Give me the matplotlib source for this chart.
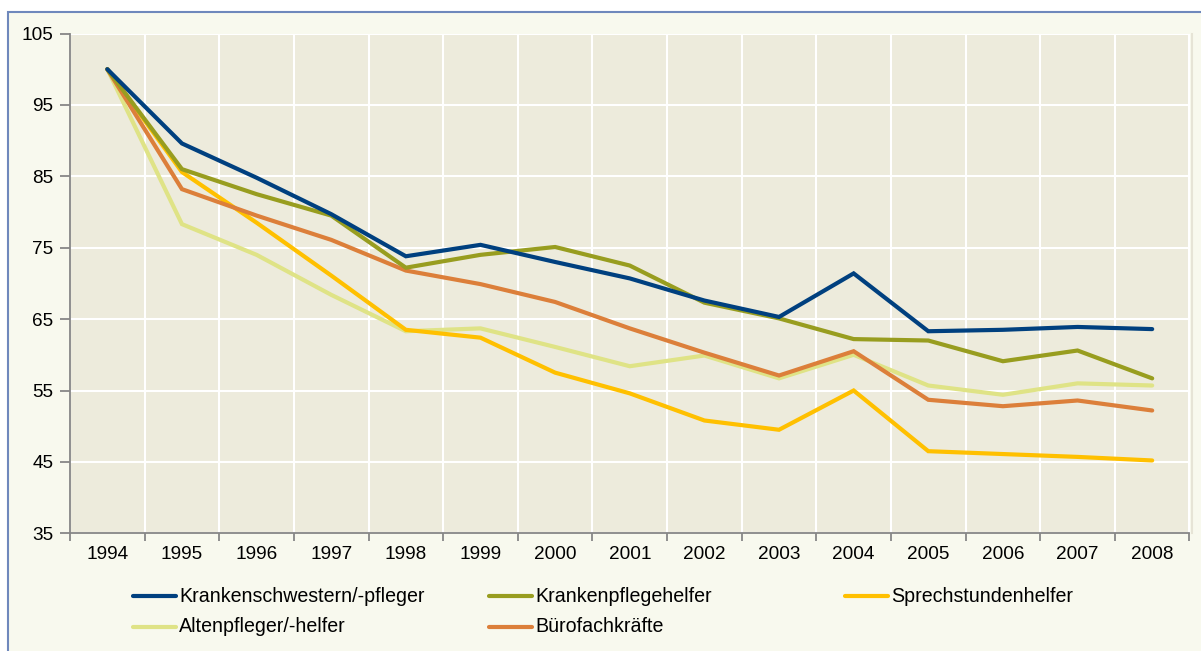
import matplotlib
matplotlib.use("Agg")
import matplotlib.pyplot as plt
from matplotlib.lines import Line2D
from matplotlib.patches import Rectangle

years = ["1994", "1995", "1996", "1997", "1998", "1999", "2000", "2001",
         "2002", "2003", "2004", "2005", "2006", "2007", "2008"]

kranken_schw = [100, 89.6, 84.8, 79.7, 73.8, 75.4, 73.0, 70.7, 67.6, 65.3, 71.4, 63.3, 63.5, 63.9, 63.6]
kranken_helf = [100, 86.0, 82.5, 79.5, 72.2, 74.0, 75.1, 72.5, 67.3, 65.1, 62.2, 62.0, 59.1, 60.6, 56.7]
sprech_helf = [100, 85.6, 78.5, 71.1, 63.5, 62.4, 57.5, 54.6, 50.8, 49.5, 55.0, 46.5, 46.1, 45.7, 45.2]
alten_pfl = [100, 78.3, 74.0, 68.4, 63.3, 63.7, 61.1, 58.4, 59.9, 56.7, 60.0, 55.7, 54.4, 56.0, 55.7]
buero = [100, 83.2, 79.5, 76.1, 71.8, 69.9, 67.4, 63.7, 60.3, 57.1, 60.5, 53.7, 52.8, 53.6, 52.2]

labels = ["Krankenschwestern/-pfleger", "Krankenpflegehelfer", "Sprechstundenhelfer",
          "Altenpfleger/-helfer", "Bürofachkräfte"]
colors = ["#00407F", "#989D1F", "#FFC000", "#DFE386", "#DC7F3A"]
series = [kranken_schw, kranken_helf, sprech_helf, alten_pfl, buero]
# drawing order (back to front)
order = [3, 2, 4, 1, 0]

yticks = [35, 45, 55, 65, 75, 85, 95, 105]

plt.rcParams['font.family'] = ['Liberation Sans', 'DejaVu Sans']

W, H = 1201, 651
fig = plt.figure(figsize=(W / 100, H / 100), dpi=100)
fig.patch.set_facecolor("white")

# outer frame
fig.add_artist(Rectangle((8 / W, -0.1), 1.2, (H - 12) / H + 0.1, transform=fig.transFigure,
                         facecolor="#F8F9EE", edgecolor="#6F88BC", linewidth=1.5, zorder=0))

left, right, top, bottom = 70, 1189.5, 33.5, 533.3
ax = fig.add_axes([left / W, (H - bottom) / H, (right - left) / W, (bottom - top) / H])
ax.set_facecolor("#EDEBDC")

x = list(range(len(years)))
for i in order:
    ax.plot(x, series[i], color=colors[i], linewidth=3.0, solid_joinstyle="miter",
            solid_capstyle="round", zorder=3)

ax.set_xlim(-0.5, len(years) - 0.5)
ax.set_ylim(35, 105)
ax.set_yticks(yticks)
ax.set_yticklabels([str(v) for v in yticks], fontsize=13.7, color="black")

bounds = [k - 0.5 for k in range(len(years) + 1)]
ax.set_xticks(bounds)
ax.set_xticklabels([""] * len(bounds))
ax.set_xticks(x, minor=True)
ax.set_xticklabels(years, minor=True, fontsize=13.7, color="black")

ax.tick_params(axis="x", which="major", direction="out", length=6, width=1.3, color="#868686")
ax.tick_params(axis="x", which="minor", length=0, pad=9)
ax.tick_params(axis="y", direction="out", length=7, width=1.3, color="#868686", pad=5)

ax.grid(True, which="major", color="white", linewidth=1.5, zorder=1)
ax.set_axisbelow(True)
for s in ["top", "right"]:
    ax.spines[s].set_visible(False)
for s in ["left", "bottom"]:
    ax.spines[s].set_color("#868686")
    ax.spines[s].set_linewidth(1.3)
    ax.spines[s].set_zorder(4)

# faint shadow on right edge of plot area
fig.add_artist(Line2D([1191.5 / W, 1191.5 / W], [(H - bottom) / H, (H - top) / H],
                      transform=fig.transFigure, color="#E6E4D6", linewidth=1.5))

# legend (manual, 3 columns)
col_x = [133, 489, 845]
row_y = [596, 627]
slots = [(0, 0), (1, 0), (2, 0), (0, 1), (1, 1)]
for i, (c, r) in enumerate(slots):
    x0 = col_x[c]
    yy = (H - row_y[r]) / H
    fig.add_artist(Line2D([x0 / W, (x0 + 43) / W], [yy, yy], transform=fig.transFigure,
                          color=colors[i], linewidth=3.0, solid_capstyle="round"))
    fig.text((x0 + 46) / W, yy, labels[i], fontsize=14.1, va="center", ha="left", color="black")

fig.savefig("out.png", dpi=100, facecolor=fig.get_facecolor())
